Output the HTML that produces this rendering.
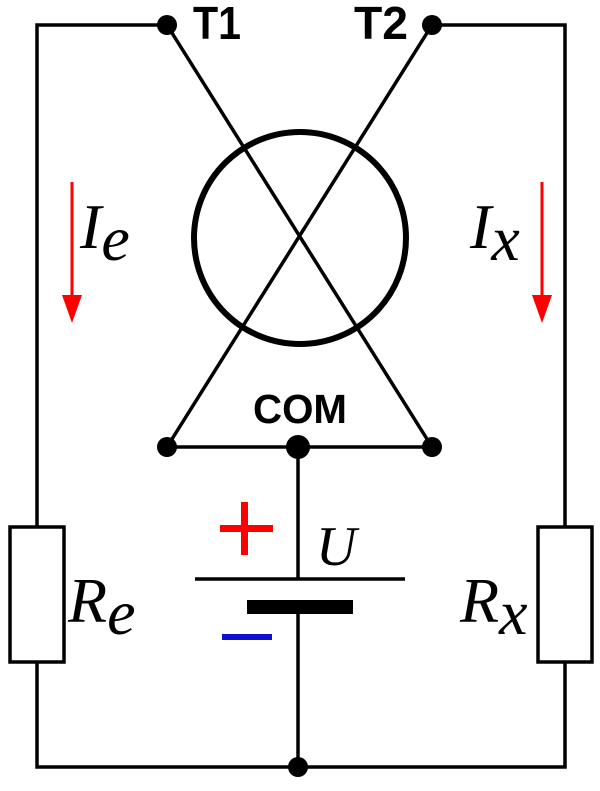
<!DOCTYPE html>
<html><head><style>html,body{margin:0;padding:0;background:#fff}
.s{font-family:"Liberation Sans",Arial,sans-serif;font-weight:bold}
.m{font-family:"Liberation Serif","Times New Roman",serif;font-style:italic}
</style></head><body>
<svg width="600" height="786" viewBox="0 0 600 786" xmlns="http://www.w3.org/2000/svg">
<g stroke="#000" stroke-width="3.5" fill="none">
<polyline points="167,25 37,25 37,527"/>
<polyline points="37,662 37,767 565,767 565,662"/>
<polyline points="432,25 565,25 565,527"/>
<rect x="10" y="527" width="54" height="135"/>
<rect x="538" y="527" width="54" height="135"/>
<line x1="167" y1="25" x2="432" y2="447"/>
<line x1="432" y1="25" x2="167" y2="447"/>
<line x1="167" y1="447" x2="432" y2="447"/>
<line x1="298" y1="447" x2="298" y2="578"/>
<line x1="298" y1="607" x2="298" y2="767"/>
<line x1="195" y1="579" x2="405" y2="579"/>
<circle cx="300" cy="238" r="106" stroke-width="6"/>
</g>
<rect x="247" y="600" width="106" height="14" fill="#000"/>
<g fill="#000">
<circle cx="167" cy="25" r="10"/><circle cx="432" cy="25" r="10"/>
<circle cx="167" cy="447" r="10"/><circle cx="432" cy="447" r="10"/>
<circle cx="298" cy="447" r="12"/><circle cx="298" cy="767" r="10"/>
</g>
<g stroke="red" stroke-width="3"><line x1="72" y1="182" x2="72" y2="300"/><line x1="542" y1="182" x2="542" y2="300"/></g>
<g fill="red"><polygon points="62,295 82,295 72,323"/><polygon points="532,295 552,295 542,323"/></g>
<rect x="220" y="525" width="53" height="7" fill="red"/>
<rect x="241" y="502" width="7" height="53" fill="red"/>
<rect x="222" y="634" width="50" height="6" fill="#1010d0"/>
<g class="s" fill="#000">
<text x="193" y="39" font-size="46" textLength="48" lengthAdjust="spacingAndGlyphs">T1</text>
<text x="354" y="39" font-size="46" textLength="54" lengthAdjust="spacingAndGlyphs">T2</text>
<text x="253" y="423" font-size="41" textLength="94" lengthAdjust="spacingAndGlyphs">COM</text>
</g>
<g class="m" fill="#000" font-size="64">
<text x="80" y="248">I<tspan dy="12">e</tspan></text>
<text x="470" y="248">I<tspan dy="12">x</tspan></text>
<text x="316" y="565" font-size="56">U</text>
<text x="68" y="622">R<tspan dy="12">e</tspan></text>
<text x="460" y="622">R<tspan dy="12">x</tspan></text>
</g>
</svg>
</body></html>
